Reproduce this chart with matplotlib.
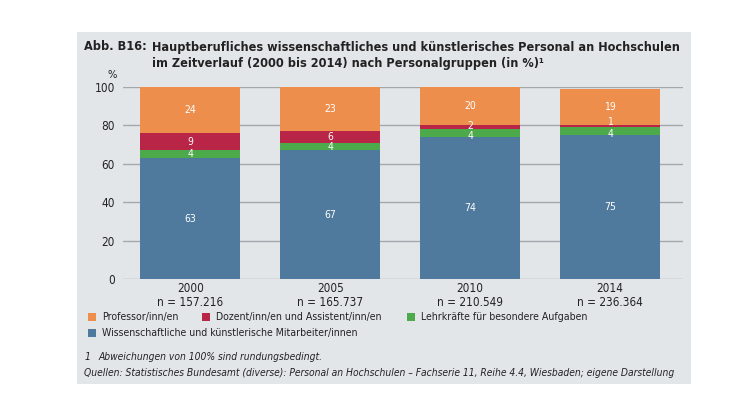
import matplotlib
matplotlib.use("Agg")
import matplotlib.pyplot as plt
import numpy as np
from matplotlib import font_manager as fm
from matplotlib.patches import Rectangle

# schmale Schrift: DejaVu Sans Condensed, falls vorhanden
prop = fm.FontProperties(family="DejaVu Sans", stretch="condensed")
CONDENSED = "Condensed" in fm.findfont(prop)
if CONDENSED:
    plt.rcParams["font.family"] = ["DejaVu Sans"]
    plt.rcParams["font.stretch"] = "condensed"
else:
    plt.rcParams["font.family"] = ["Roboto", "DejaVu Sans"]

years = ["2000", "2005", "2010", "2014"]
n_labels = ["n = 157.216", "n = 165.737", "n = 210.549", "n = 236.364"]
mitarbeiter = [63, 67, 74, 75]
lehrkraefte = [4, 4, 4, 4]
dozenten = [9, 6, 2, 1]
professoren = [24, 23, 20, 19]

series = [
    ("Wissenschaftliche und künstlerische Mitarbeiter/innen", mitarbeiter, "#4f7a9d"),
    ("Lehrkräfte für besondere Aufgaben", lehrkraefte, "#4caa4a"),
    ("Dozent/inn/en und Assistent/inn/en", dozenten, "#b82547"),
    ("Professor/inn/en", professoren, "#ee8e4c"),
]

W, H = 743, 394
fig = plt.figure(figsize=(W / 100, H / 100), dpi=100)
fig.patch.set_facecolor("white")

def fx(px):
    return px / W

def fy(py):
    return 1 - py / H

TXT = "#222222"

# grauer Kasten
fig.patches.append(Rectangle((fx(77), fy(384)), fx(691) - fx(77), fy(32) - fy(384),
                             transform=fig.transFigure, facecolor="#e3e6e9",
                             edgecolor="none", zorder=-5))

ax = fig.add_axes([fx(123), fy(279), fx(683) - fx(123), fy(87) - fy(279)])
ax.set_facecolor("none")
ax.set_zorder(2)

x = np.arange(len(years))
bottom = np.zeros(len(years))
for name, vals, col in series:
    vals = np.array(vals, dtype=float)
    ax.bar(x, vals, bottom=bottom, width=0.715, color=col, zorder=3)
    for xi, b, v in zip(x, bottom, vals):
        yy = b + v / 2
        # kleine Segmente: Beschriftungen etwas auseinanderschieben
        if name.startswith("Dozent") and v <= 2:
            yy += 0.7 if v == 2 else 2.3
        if name.startswith("Lehr") and dozenten[xi] <= 2:
            yy -= 1.5
        ax.text(xi, yy, f"{int(v)}", ha="center", va="center",
                color="white", fontsize=7.5, zorder=4)
    bottom += vals

ax.set_xlim(-0.48, 3.52)
ax.set_ylim(0, 100)
ax.set_yticks(range(0, 101, 20))
ax.yaxis.grid(True, color="#a4a8ad", linewidth=1, zorder=1)
ax.set_axisbelow(True)
ax.tick_params(axis="y", length=0, pad=6, labelsize=8.5, colors=TXT)
ax.set_xticks(x)
ax.set_xticklabels([f"{y}\n{n}" for y, n in zip(years, n_labels)],
                   fontsize=8.5, color=TXT, linespacing=1.1)
ax.tick_params(axis="x", length=0, pad=2)
for s in ax.spines.values():
    s.set_visible(False)

fig.text(fx(112), fy(75), "%", fontsize=8, ha="center", va="center", color=TXT)

# Titel
tfs = 9.1
fig.text(fx(84), fy(47), "Abb. B16:", fontsize=tfs, fontweight="bold",
         ha="left", va="center", color=TXT)
fig.text(fx(152), fy(47),
         "Hauptberufliches wissenschaftliches und künstlerisches Personal an Hochschulen",
         fontsize=tfs, fontweight="bold", ha="left", va="center", color=TXT)
fig.text(fx(152), fy(63), "im Zeitverlauf (2000 bis 2014) nach Personalgruppen (in %)¹",
         fontsize=tfs, fontweight="bold", ha="left", va="center", color=TXT)

# Legende
legend_pos = [
    ("Professor/inn/en", 88, 317),
    ("Dozent/inn/en und Assistent/inn/en", 202, 317),
    ("Lehrkräfte für besondere Aufgaben", 407, 317),
    ("Wissenschaftliche und künstlerische Mitarbeiter/innen", 88, 333),
]
colors = {name: col for name, _, col in series}
for name, px, py in legend_pos:
    fig.patches.append(Rectangle((fx(px), fy(py + 4)), fx(8), fy(0) - fy(8),
                                 transform=fig.transFigure, facecolor=colors[name],
                                 edgecolor="none", zorder=2))
    fig.text(fx(px + 14), fy(py), name, fontsize=7.6, ha="left", va="center",
             color=TXT)

# Fußnoten
fig.text(fx(85), fy(357), "1", fontsize=7.4, style="italic", ha="left",
         va="center", color=TXT)
fig.text(fx(98), fy(357), "Abweichungen von 100% sind rundungsbedingt.",
         fontsize=7.4, style="italic", ha="left", va="center", color=TXT)
fig.text(fx(84), fy(373),
         "Quellen: Statistisches Bundesamt (diverse): Personal an Hochschulen – "
         "Fachserie 11, Reihe 4.4, Wiesbaden; eigene Darstellung",
         fontsize=7.4, style="italic", ha="left", va="center", color=TXT)

fig.savefig("out.png", dpi=100, facecolor="white")
